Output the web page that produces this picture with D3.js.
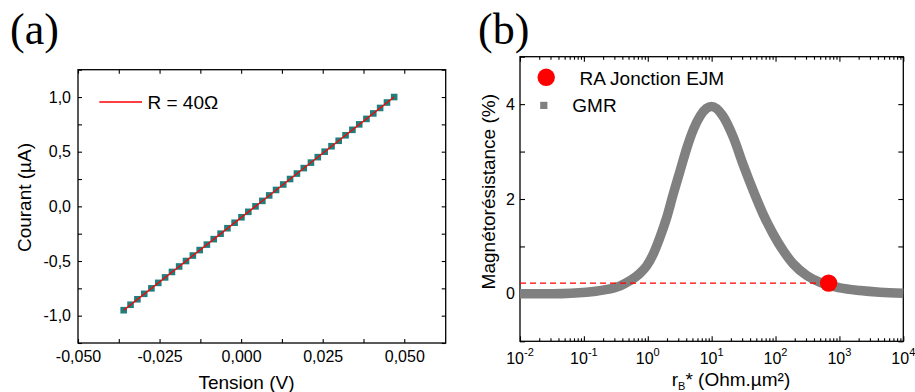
<!DOCTYPE html>
<html><head><meta charset="utf-8">
<script src="https://cdn.jsdelivr.net/npm/d3@7/dist/d3.min.js"></script>
<style>
body{margin:0;background:#fff}
svg{display:block}
text{font-family:"Liberation Sans",Arial,sans-serif;fill:#000}
</style>
</head><body>
<svg id="c" width="915" height="392"></svg>
<script>
// ---------- Panel (a) data ----------
const currentUA = [-0.95,-0.90,-0.85,-0.80,-0.75,-0.70,-0.65,-0.60,-0.55,-0.50,
  -0.45,-0.40,-0.35,-0.30,-0.25,-0.20,-0.15,-0.10,-0.05,0.00,
  0.05,0.10,0.15,0.20,0.25,0.30,0.35,0.40,0.45,0.50,
  0.55,0.60,0.65,0.70,0.75,0.80,0.85,0.90,0.95,1.00];
const tensionV = [-0.0360,-0.0339,-0.0318,-0.0297,-0.0275,-0.0254,-0.0233,-0.0212,-0.0190,-0.0169,
  -0.0148,-0.0127,-0.0105,-0.0084,-0.0063,-0.0042,-0.0020,0.0001,0.0022,0.0044,
  0.0065,0.0086,0.0107,0.0129,0.0150,0.0171,0.0192,0.0214,0.0235,0.0256,
  0.0277,0.0299,0.0320,0.0341,0.0362,0.0384,0.0405,0.0426,0.0447,0.0469];
const fitLabel = "R = 40Ω";
const tensionTicks = [-0.05,-0.025,0,0.025,0.05];
const tensionTickLabels = ["-0,050","-0,025","0,000","0,025","0,050"];
const tensionMinor = [-0.05,-0.0375,-0.025,-0.0125,0,0.0125,0.025,0.0375,0.05];
const currentTicks = [-1,-0.5,0,0.5,1];
const currentTickLabels = ["-1,0","-0,5","0,0","0,5","1,0"];
const currentMinor = [-1.25,-1,-0.75,-0.5,-0.25,0,0.25,0.5,0.75,1,1.25];

// ---------- Panel (b) data ----------
const rbValues = [0.01,0.033,0.11,0.2,0.37,0.53,0.75,0.96,1.22,1.55,1.98,2.5,3.2,4.1,5.2,6.6,8.3,10,
  15,22,31,45,64,92,132,190,310,500,1020,2100,4300,10000];
const gmrValues = [0,0.003,0.035,0.08,0.17,0.28,0.43,0.59,0.84,1.19,1.61,2.10,2.59,3.08,3.47,3.75,3.91,3.95,
  3.75,3.29,2.73,2.17,1.68,1.26,0.91,0.63,0.385,0.24,0.126,0.07,0.035,0.013];
const ejmRB = [678];
const ejmMR = [0.227];
const mrTicks = [0,2,4];
const mrTickLabels = ["0","2","4"];
const mrMinor = [-1,0,1,2,3,4,5];
const rbDecades = [-2,-1,0,1,2,3,4];
const legendB = ["RA Jonction EJM","GMR"];

const svg = d3.select("#c");
const black = "#000";
const teal = "#1f7f7f";
const grey = "#808080";

// ================= Panel (a) =================
const ax = d3.scaleLinear().domain([-0.05, 0.0627]).range([78, 445.7]);
const ay = d3.scaleLinear().domain([-1.25, 1.25]).range([343, 69.7]);
const gA = svg.append("g");

function styleAxis(g){
  g.select(".domain").remove();
  g.selectAll(".tick line").attr("stroke", black).attr("stroke-width", 1.1);
  g.selectAll(".tick text").style("font-size","16px").attr("fill", black)
    .style("font-family",'"Liberation Sans",Arial,sans-serif');
}
const tLab = d => { const i = tensionTicks.findIndex(t => Math.abs(t-d) < 1e-9); return i >= 0 ? tensionTickLabels[i] : ""; };
const cLab = d => { const i = currentTicks.findIndex(t => Math.abs(t-d) < 1e-9); return i >= 0 ? currentTickLabels[i] : ""; };

gA.append("g").attr("transform","translate(0,343)")
  .call(d3.axisBottom(ax).tickValues(tensionMinor).tickFormat(tLab).tickSizeInner(-4).tickSizeOuter(0).tickPadding(8))
  .call(styleAxis);
gA.append("g").attr("transform","translate(0,69.7)")
  .call(d3.axisTop(ax).tickValues(tensionMinor).tickFormat(()=>"").tickSizeInner(-4).tickSizeOuter(0))
  .call(styleAxis);
gA.append("g").attr("transform","translate(78,0)")
  .call(d3.axisLeft(ay).tickValues(currentMinor).tickFormat(cLab).tickSizeInner(-4).tickSizeOuter(0).tickPadding(7))
  .call(styleAxis);
gA.append("g").attr("transform","translate(445.7,0)")
  .call(d3.axisRight(ay).tickValues(currentMinor).tickFormat(()=>"").tickSizeInner(-4).tickSizeOuter(0))
  .call(styleAxis);

gA.append("rect").attr("x",78).attr("y",69.7).attr("width",445.7-78).attr("height",343-69.7)
  .attr("fill","none").attr("stroke",black).attr("stroke-width",1.3);

const ptsA = currentUA.map((c,i)=>({v:tensionV[i], c}));
gA.selectAll("rect.pt").data(ptsA).enter().append("rect").attr("class","pt")
  .attr("x", d=>ax(d.v)-3.3).attr("y", d=>ay(d.c)-3.3).attr("width",6.6).attr("height",6.6)
  .attr("fill", teal);
gA.append("path").datum([ptsA[0], ptsA[ptsA.length-1]])
  .attr("d", d3.line().x(d=>ax(d.v)).y(d=>ay(d.c)))
  .attr("stroke","#ff0000").attr("stroke-width",1.3).attr("fill","none");

// legend (a)
gA.append("line").attr("x1",99.3).attr("x2",142).attr("y1",102).attr("y2",102)
  .attr("stroke","#ff0000").attr("stroke-width",1.3);
gA.append("text").attr("x",147.5).attr("y",109).style("font-size","19px").text(fitLabel);

// titles (a)
gA.append("text").attr("x",246.5).attr("y",389).attr("text-anchor","middle")
  .style("font-size","19px").text("Tension (V)");
gA.append("text").attr("transform","translate(30.5,197.5) rotate(-90)").attr("text-anchor","middle")
  .style("font-size","19px").text("Courant (µA)");
gA.append("text").attr("x",10).attr("y",44).style("font-family",'"Liberation Serif","Times New Roman",serif')
  .style("font-size","44px").text("(a)");

// ================= Panel (b) =================
const bx = d3.scaleLog().domain([0.01, 10000]).range([520, 903.3]);
const by = d3.scaleLinear().domain([-1, 5]).range([341.3, 56.7]);
const gB = svg.append("g");

const logTicks = bx.ticks();
const majorSet = new Set(rbDecades.map(d=>Math.pow(10,d).toPrecision(6)));
function sizeLog(g){
  g.selectAll(".tick line").attr("y2", function(d){
    const major = majorSet.has(d.toPrecision(6));
    const cur = +d3.select(this).attr("y2");
    return Math.sign(cur) * (major ? 5 : 3);
  });
}
gB.append("g").attr("transform","translate(0,341.3)")
  .call(d3.axisBottom(bx).tickValues(logTicks).tickFormat(()=>"").tickSizeInner(-5).tickSizeOuter(0))
  .call(styleAxis).call(sizeLog);
gB.append("g").attr("transform","translate(0,56.7)")
  .call(d3.axisTop(bx).tickValues(logTicks).tickFormat(()=>"").tickSizeInner(-5).tickSizeOuter(0))
  .call(styleAxis).call(sizeLog);
const mLab = d => { const i = mrTicks.indexOf(d); return i >= 0 ? mrTickLabels[i] : ""; };
gB.append("g").attr("transform","translate(520,0)")
  .call(d3.axisLeft(by).tickValues(mrMinor).tickFormat(mLab).tickSizeInner(-5).tickSizeOuter(0).tickPadding(5))
  .call(styleAxis);
gB.append("g").attr("transform","translate(903.3,0)")
  .call(d3.axisRight(by).tickValues(mrMinor).tickFormat(()=>"").tickSizeInner(-5).tickSizeOuter(0))
  .call(styleAxis);

// x tick labels with superscripts
rbDecades.forEach(d=>{
  const t = gB.append("text").attr("x", bx(Math.pow(10,d))).attr("y",364).attr("text-anchor","middle")
    .style("font-size","16px");
  t.append("tspan").text("10");
  t.append("tspan").attr("dy",-8).style("font-size","11px").text(String(d));
});

gB.append("rect").attr("x",520).attr("y",56.7).attr("width",903.3-520).attr("height",341.3-56.7)
  .attr("fill","none").attr("stroke",black).attr("stroke-width",1.3);

// GMR band
const ptsB = rbValues.map((r,i)=>({r, m:gmrValues[i]}));
gB.append("path").datum(ptsB)
  .attr("d", d3.line().x(d=>bx(d.r)).y(d=>by(d.m)).curve(d3.curveMonotoneX))
  .attr("stroke", grey).attr("stroke-width",9.5).attr("fill","none").attr("stroke-linejoin","round");

// dashed level line
gB.append("path").datum([{r:0.01,m:ejmMR[0]},{r:ejmRB[0],m:ejmMR[0]}])
  .attr("d", d3.line().x(d=>bx(d.r)).y(d=>by(d.m)))
  .attr("stroke","#ff0000").attr("stroke-width",1.3).attr("stroke-dasharray","6,4").attr("fill","none");

// EJM point
gB.selectAll("circle.ejm").data(ejmRB).enter().append("circle").attr("class","ejm")
  .attr("cx", d=>bx(d)).attr("cy", (d,i)=>by(ejmMR[i])).attr("r",8.7).attr("fill","#ff0000");

// legend (b)
gB.append("circle").attr("cx",546.2).attr("cy",77.3).attr("r",8.7).attr("fill","#ff0000");
gB.append("text").attr("x",579.5).attr("y",85).style("font-size","19px").text(legendB[0]);
gB.append("rect").attr("x",540.2).attr("y",101.8).attr("width",7.2).attr("height",7.2).attr("fill",grey);
gB.append("text").attr("x",572.3).attr("y",111.7).style("font-size","19px").text(legendB[1]);

// titles (b)
const xt = gB.append("text").attr("x",731).attr("y",386).attr("text-anchor","middle").style("font-size","19px");
xt.append("tspan").text("r");
xt.append("tspan").attr("dy",3.5).style("font-size","11px").text("B");
xt.append("tspan").attr("dy",-3.5).text("* (Ohm.µm²)");
gB.append("text").attr("transform","translate(495,191.7) rotate(-90)").attr("text-anchor","middle")
  .style("font-size","19px").text("Magnétorésistance (%)");
gB.append("text").attr("x",478).attr("y",44).style("font-family",'"Liberation Serif","Times New Roman",serif')
  .style("font-size","44px").text("(b)");
</script>
</body></html>
